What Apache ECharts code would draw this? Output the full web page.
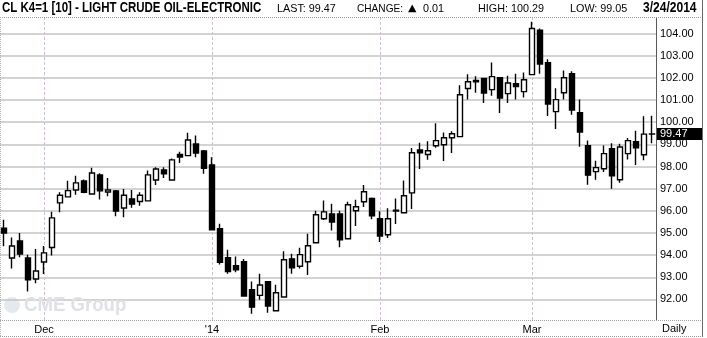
<!DOCTYPE html>
<html><head><meta charset="utf-8">
<script src="https://cdn.jsdelivr.net/npm/echarts@6/dist/echarts.min.js"></script>
<style>html,body{margin:0;padding:0;background:#fff}#c{width:707px;height:338px}</style>
</head><body><div id="c"></div>
<script>
var dates = ['2013-11-22','2013-11-25','2013-11-26','2013-11-27','2013-11-29',
'2013-12-02','2013-12-03','2013-12-04','2013-12-05','2013-12-06','2013-12-09','2013-12-10','2013-12-11','2013-12-12','2013-12-13',
'2013-12-16','2013-12-17','2013-12-18','2013-12-19','2013-12-20','2013-12-23','2013-12-24','2013-12-26','2013-12-27','2013-12-30','2013-12-31',
'2014-01-02','2014-01-03','2014-01-06','2014-01-07','2014-01-08','2014-01-09','2014-01-10','2014-01-13','2014-01-14','2014-01-15','2014-01-16','2014-01-17',
'2014-01-21','2014-01-22','2014-01-23','2014-01-24','2014-01-27','2014-01-28','2014-01-29','2014-01-30','2014-01-31',
'2014-02-03','2014-02-04','2014-02-05','2014-02-06','2014-02-07','2014-02-10','2014-02-11','2014-02-12','2014-02-13','2014-02-14',
'2014-02-18','2014-02-19','2014-02-20','2014-02-21','2014-02-24','2014-02-25','2014-02-26','2014-02-27','2014-02-28',
'2014-03-03','2014-03-04','2014-03-05','2014-03-06','2014-03-07','2014-03-10','2014-03-11','2014-03-12','2014-03-13','2014-03-14',
'2014-03-17','2014-03-18','2014-03-19','2014-03-20','2014-03-21','2014-03-24'];
var opens = [95.21,93.87,94.64,93.87,92.92,93.69,94.34,96.36,96.63,96.94,97.35,96.76,97.62,96.85,96.90,96.13,96.54,96.42,96.45,97.39,97.85,97.39,98.54,98.49,99.02,98.70,
98.07,95.19,93.88,93.52,93.70,92.44,92.18,92.80,91.49,92.11,93.83,93.50,93.70,94.56,95.64,95.86,95.86,94.74,96.00,96.41,96.56,
95.64,94.92,96.03,95.91,96.81,98.75,98.54,98.94,98.98,99.30,99.35,101.52,101.88,101.98,101.47,102.01,101.29,101.74,101.38,
102.15,104.15,102.69,100.48,101.33,102.19,100.43,98.94,97.77,97.90,98.80,97.40,98.58,99.12,98.53,99.46];
var closes = [95.00,94.41,94.05,92.88,93.28,94.10,95.68,96.70,96.91,97.26,96.84,97.71,96.90,96.94,95.99,96.70,96.30,96.70,97.62,97.89,97.67,98.30,98.43,99.20,98.61,97.92,
95.14,93.67,93.26,93.34,92.15,91.65,92.65,91.70,92.30,93.79,93.43,94.02,94.42,95.82,95.95,95.49,94.69,96.27,96.18,96.86,95.77,
94.86,95.64,95.99,96.68,98.62,98.62,98.71,99.17,99.30,99.48,101.24,101.83,101.82,101.32,102.06,101.09,101.77,101.61,101.92,
104.23,102.63,100.82,101.02,102.01,100.55,99.56,97.61,97.95,98.58,97.58,98.88,99.17,98.85,99.46,99.47];
var lows = [94.40,93.40,93.90,92.36,92.73,93.15,93.98,95.93,96.61,96.73,96.79,96.76,96.51,96.66,95.75,95.71,96.14,96.23,96.45,97.17,97.48,97.39,98.16,98.49,98.42,97.67,
95.14,93.58,93.16,93.23,92.15,91.35,91.98,91.40,91.49,92.11,93.16,93.40,93.10,94.56,95.59,95.11,94.36,94.74,95.31,96.17,95.62,
94.59,94.77,95.40,95.91,96.08,97.89,98.30,98.85,98.25,98.61,99.35,101.02,101.33,100.87,101.20,100.42,100.87,101.02,101.11,
102.15,102.19,100.28,99.69,101.02,100.34,98.89,97.18,97.40,97.75,97.00,97.27,98.32,98.07,98.28,99.05];
var highs = [95.60,94.79,95.00,94.02,94.28,94.41,95.96,96.84,97.36,97.58,97.41,97.94,97.70,97.48,96.94,96.99,96.94,96.84,97.82,97.97,97.97,98.36,98.67,99.52,99.40,98.75,
98.42,95.41,94.24,93.94,93.82,92.81,93.16,92.82,92.66,94.17,94.06,94.33,94.96,96.00,96.47,96.32,96.00,96.41,96.50,97.17,96.60,
95.98,96.11,96.56,97.37,98.84,99.07,99.14,99.95,99.54,99.59,101.67,102.16,102.07,102.00,102.70,102.03,102.10,102.19,102.24,
104.53,104.23,102.84,101.53,102.33,102.30,101.02,99.17,98.26,98.95,99.05,99.03,99.29,99.62,100.27,100.29];
var yTicks = [92,93,94,95,96,97,98,99,100,101,102,103,104];
var monthDates = ['2013-12-02','2014-01-02','2014-02-03','2014-03-03'];
var monthLabels = ['Dec',"'14",'Feb','Mar'];
var lastPrice = 99.47;

var chart = echarts.init(document.getElementById('c'), null, {renderer:'canvas'});
var FONT = '"Liberation Sans", Arial, sans-serif';
var candleData = dates.map(function(d,i){ return [opens[i], closes[i], lows[i], highs[i]]; });
var gridMarks = yTicks.map(function(v){ return {yAxis: v, lineStyle:{color:'#c2c6c2', width:1.5, type:'solid'}}; })
  .concat(monthDates.map(function(d){ return {xAxis: d, lineStyle:{color:'#cdbfcd', width:1, type:[3,2]}}; }));

chart.setOption({
  animation: false,
  backgroundColor: '#ffffff',
  grid: {left: -1, right: 51, top: 17, bottom: 18, containLabel: false},
  xAxis: {
    type: 'category', data: dates, boundaryGap: true,
    axisLine: {show:false}, axisTick: {show:false}, splitLine: {show:false},
    axisLabel: {
      interval: function(i, v){ return monthDates.indexOf(v) >= 0; },
      formatter: function(v){ var k = monthDates.indexOf(v); return k >= 0 ? monthLabels[k] : ''; },
      color: '#000', fontSize: 11, fontFamily: FONT, margin: 4
    }
  },
  yAxis: {
    type: 'value', position: 'right', min: 91.07, max: 104.75, scale: true,
    axisLine: {show:true, lineStyle:{color:'#5a5a5a', width:1}},
    axisTick: {show:false},
    splitLine: {show:false},
    axisLabel: {customValues: yTicks, formatter: function(v){ return v.toFixed(2); },
      color:'#000', fontSize: 11, fontFamily: FONT, margin: 4, align:'left'}
  },
  series: [
    {type:'line', data: [], z: 1, silent: true,
     markLine: {silent:true, symbol:['none','none'], label:{show:false}, animation:false, data: gridMarks}},
    {type:'candlestick', data: candleData, z: 5, barWidth: 5, clip: true,
     itemStyle: {color:'#ffffff', color0:'#000000', borderColor:'#000000', borderColor0:'#000000', borderColorDoji:'#000000', borderWidth:1.4}}
  ]
});

var yLast = chart.convertToPixel({yAxisIndex:0}, lastPrice);
function txt(x, y, text, font, sx, extra){
  var o = {type:'text', x:x, y:y, scaleX: sx || 1, silent:true, z: 100,
    style:{text:text, font:font, fill:'#000', verticalAlign:'middle', align:'left'}};
  if (extra) for (var k in extra) o.style[k] = extra[k];
  return o;
}
function line(x1,y1,x2,y2,color,dash){
  return {type:'line', silent:true, z: 50, shape:{x1:x1,y1:y1,x2:x2,y2:y2},
    style:{stroke:color, lineWidth:1, lineDash: dash || null}};
}
chart.setOption({graphic: [
  {type:'rect', shape:{x:0,y:0,width:707,height:17}, style:{fill:'#fff'}, z:40, silent:true},
  txt(2, 8.5, 'CL K4=1 [10] - LIGHT CRUDE OIL-ELECTRONIC', 'bold 14px "Liberation Sans", Arial', 0.82),
  txt(277, 9, 'LAST: 99.47', '11px "Liberation Sans", Arial', 0.98),
  txt(357, 9, 'CHANGE:', '11px "Liberation Sans", Arial', 0.92),
  txt(408, 8.5, '\u25B2', '10px "DejaVu Sans", sans-serif', 1.1),
  txt(423, 9, '0.01', '11px "Liberation Sans", Arial', 0.98),
  txt(478, 9, 'HIGH: 100.29', '11px "Liberation Sans", Arial', 0.98),
  txt(570, 9, 'LOW: 99.05', '11px "Liberation Sans", Arial', 0.98),
  txt(643, 8.5, '3/24/2014', 'bold 14px "Liberation Sans", Arial', 0.86),
  line(0, 17.5, 703, 17.5, '#9a9a9a', [1,1]),
  line(0, 320.5, 703, 320.5, '#a0a0a0', [1,1]),
  line(0, 336.5, 703, 336.5, '#9a9a9a', [1,1]),
  line(702.5, 0, 702.5, 337, '#6a6a6a'),
  line(0.5, 17, 0.5, 337, '#b0b0b0', [1,1]),
  txt(662, 329, 'Daily', '11px "Liberation Sans", Arial', 1),
  {type:'circle', shape:{cx:12, cy:305, r:8}, style:{fill:'#e4e9f0'}, z:3, silent:true},
  txt(24, 305, 'CME Group', 'bold 20px "Liberation Sans", Arial', 0.93, {fill:'#e0e1e6'}),
  {type:'rect', shape:{x:657, y:yLast-6, width:45, height:12}, style:{fill:'#000'}, z:60, silent:true},
  txt(660, yLast, lastPrice.toFixed(2), '11px "Liberation Sans", Arial', 1, {fill:'#fff'})
]});
</script></body></html>
